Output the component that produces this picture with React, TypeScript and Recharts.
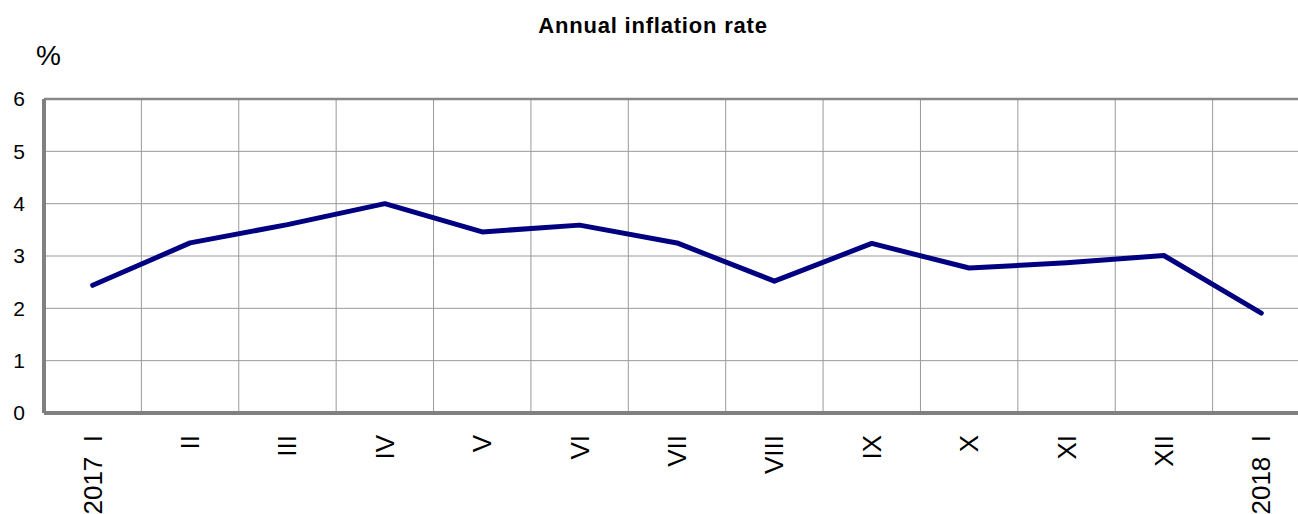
import { LineChart, Line, XAxis, YAxis, CartesianGrid, ReferenceLine } from "recharts";

const FONT = "'Liberation Sans', Arial, sans-serif";

// months, Jan 2017 – Jan 2018
const MONTHS = ["2017\u00a0\u00a0I", "II", "III", "IV", "V", "VI", "VII", "VIII", "IX", "X", "XI", "XII", "2018\u00a0\u00a0I"];
// annual inflation rate, %
const INFLATION = [2.44, 3.25, 3.6, 4.0, 3.46, 3.59, 3.25, 2.52, 3.24, 2.77, 2.87, 3.01, 1.91];
const Y_TICKS = [0, 1, 2, 3, 4, 5, 6];

const data = MONTHS.map((m, i) => ({ idx: i, label: m, value: INFLATION[i] }));
const X_TICKS = MONTHS.map((_, i) => i);
// grid lines sit between months
const BOUNDARIES = MONTHS.slice(1).map((_, i) => i + 0.5);

function MonthTick(props: any) {
  const { x, y, payload } = props;
  return (
    <text
      x={x}
      y={y}
      transform={`rotate(-90 ${x} ${y})`}
      textAnchor="end"
      dominantBaseline="central"
      fontSize={26}
      fontFamily={FONT}
      fill="#000"
    >
      {MONTHS[payload.value]}
    </text>
  );
}

export default function App() {
  return (
    <div
      style={{
        position: "absolute",
        left: 0,
        top: 0,
        width: 1298,
        height: 514,
        overflow: "hidden",
        background: "#fff",
        fontFamily: FONT,
      }}
    >
      <div
        style={{
          position: "absolute",
          left: 0,
          width: 1306,
          top: 13,
          textAlign: "center",
          fontSize: 22,
          letterSpacing: 0.8,
          fontWeight: "bold",
          lineHeight: "26px",
        }}
      >
        Annual inflation rate
      </div>
      <div style={{ position: "absolute", left: 36, top: 40, fontSize: 28, lineHeight: "32px" }}>%</div>
      <LineChart
        width={1312}
        height={514}
        data={data}
        margin={{ top: 99, right: 2, bottom: 0, left: 8 }}
      >
        <CartesianGrid vertical={false} stroke="#999" strokeWidth={1} />
        {BOUNDARIES.map((b) => (
          <ReferenceLine key={b} x={b} stroke="#999" strokeWidth={1} />
        ))}
        <ReferenceLine y={6} stroke="#888" strokeWidth={2.5} />
        <XAxis
          dataKey="idx"
          type="number"
          domain={[-0.5, 12.5]}
          ticks={X_TICKS}
          interval={0}
          height={101}
          tickLine={false}
          tickSize={0}
          tickMargin={22}
          axisLine={{ stroke: "#808080", strokeWidth: 4 }}
          tick={<MonthTick />}
        />
        <YAxis
          domain={[0, 6]}
          ticks={Y_TICKS}
          interval={0}
          width={36}
          tickLine={false}
          tickSize={0}
          tickMargin={19}
          axisLine={{ stroke: "#808080", strokeWidth: 4 }}
          tick={{ fill: "#000", fontSize: 21, fontFamily: FONT }}
        />
        <Line
          type="linear"
          dataKey="value"
          stroke="#000080"
          strokeWidth={5}
          strokeLinecap="round"
          strokeLinejoin="round"
          dot={false}
          activeDot={false}
          isAnimationActive={false}
        />
      </LineChart>
    </div>
  );
}
